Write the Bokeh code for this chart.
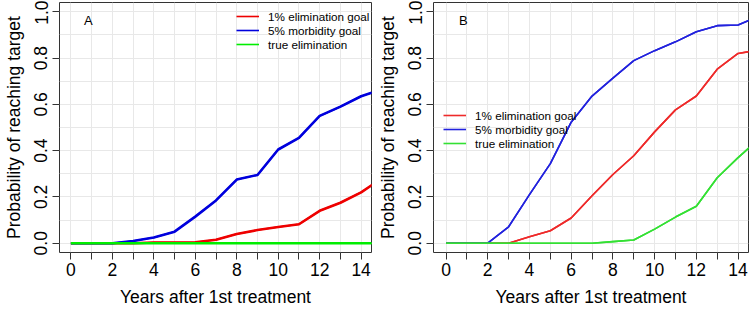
from bokeh.plotting import figure
from bokeh.layouts import row
from bokeh.models import (Range1d, FixedTicker, PrintfTickFormatter, Legend, LegendItem, Label)
from bokeh.embed import file_html
from bokeh.resources import INLINE

years = list(range(0, 16))

# Panel A
a_elim = [0, 0, 0, 0, 0.003, 0.003, 0.004, 0.015, 0.04, 0.057, 0.07, 0.082, 0.14, 0.175, 0.22, 0.28]
a_morb = [0, 0, 0, 0.01, 0.025, 0.05, 0.115, 0.185, 0.275, 0.295, 0.405, 0.455, 0.55, 0.59, 0.635, 0.665]
a_true = [0] * 16

# Panel B
b_elim = [0, 0, 0, 0, 0.028, 0.054, 0.109, 0.205, 0.297, 0.378, 0.481, 0.576, 0.636, 0.752, 0.82, 0.835]
b_morb = [0, 0, 0, 0.071, 0.21, 0.344, 0.523, 0.636, 0.713, 0.789, 0.832, 0.87, 0.914, 0.94, 0.943, 0.98]
b_true = [0, 0, 0, 0, 0, 0, 0, 0, 0.007, 0.014, 0.061, 0.113, 0.16, 0.283, 0.37, 0.45]

series_names = ["1% elimination goal", "5% morbidity goal", "true elimination"]
x_major = [0, 2, 4, 6, 8, 10, 12, 14]
x_minor = [1, 3, 5, 7, 9, 11, 13]
y_major = [0, 0.2, 0.4, 0.6, 0.8, 1.0]
y_minor = [0.1, 0.3, 0.5, 0.7, 0.9]

FONT = "Liberation Sans"
GRID = "#e8e8e8"


def make_panel(width, border_left, border_right, xstart, series, colors, lw, legend_lw,
               legend_loc, tag, tag_x):
    p = figure(width=width, height=309, output_backend="svg", toolbar_location=None,
               x_range=Range1d(xstart, 14.5), y_range=Range1d(-0.04, 1.04),
               min_border_left=border_left, min_border_right=border_right,
               min_border_top=2, min_border_bottom=53)
    p.outline_line_color = "#333333"
    p.outline_line_width = 1
    p.background_fill_color = "white"
    p.border_fill_color = "white"

    p.xaxis.ticker = FixedTicker(ticks=x_major, minor_ticks=x_minor)
    p.yaxis.ticker = FixedTicker(ticks=y_major, minor_ticks=y_minor)
    p.yaxis.formatter = PrintfTickFormatter(format="%.1f")
    p.xaxis.axis_label = "Years after 1st treatment"
    p.yaxis.axis_label = "Probability of reaching target"
    for ax in (p.xaxis[0], p.yaxis[0]):
        ax.axis_line_color = None
        ax.major_tick_line_color = "#333333"
        ax.major_tick_out = 7
        ax.major_tick_in = 0
        ax.major_label_text_font = FONT
        ax.major_label_text_font_size = "17.5px"
        ax.major_label_text_color = "black"
        ax.axis_label_text_font = FONT
        ax.axis_label_text_font_size = "17.5px"
        ax.axis_label_text_font_style = "normal"
        ax.axis_label_text_color = "black"
    p.xaxis.minor_tick_line_color = "#333333"
    p.xaxis.minor_tick_out = 7
    p.xaxis.minor_tick_in = 0
    p.yaxis.minor_tick_line_color = None
    p.yaxis.major_label_orientation = "vertical"
    p.xaxis.major_label_standoff = 3
    p.xaxis.axis_label_standoff = 8
    p.yaxis.major_label_standoff = 5
    p.yaxis.axis_label_standoff = 8

    for g in (p.xgrid[0], p.ygrid[0]):
        g.grid_line_color = GRID
        g.minor_grid_line_color = GRID
        g.grid_line_width = 1
        g.minor_grid_line_width = 1

    items = []
    for name, ys, c in zip(series_names, series, colors):
        # thin copy (used as the legend swatch), hidden beneath the main line
        thin = p.line(years, ys, line_color=c, line_width=legend_lw, line_join="round")
        p.line(years, ys, line_color=c, line_width=lw, line_join="round")
        items.append(LegendItem(label=name, renderers=[thin]))

    leg = Legend(items=items, location=legend_loc, background_fill_alpha=0,
                 border_line_color=None, padding=0, margin=0, spacing=0,
                 glyph_width=23, glyph_height=14, label_height=14,
                 label_standoff=9, label_text_font=FONT, label_text_font_size="11.7px",
                 label_text_color="black")
    p.add_layout(leg, "center")

    p.add_layout(Label(x=tag_x, y=0.963, text=tag, text_font=FONT, text_font_size="13px",
                       text_align="center", text_baseline="middle", text_color="black"))
    return p


pA = make_panel(374, 57, 3, -0.55, [a_elim, a_morb, a_true],
                ["#EE0000", "#0000DD", "#00EE00"], 2.6, 1.6, (177, 201), "A", 0.84)
pB = make_panel(375, 59, 1, -0.6, [b_elim, b_morb, b_true],
                ["#EE2A2A", "#2222DD", "#33E033"], 1.6, 1.6, (10, 102), "B", 0.83)

layout = row(pA, pB)
open("out.html", "w").write(file_html(layout, INLINE))
